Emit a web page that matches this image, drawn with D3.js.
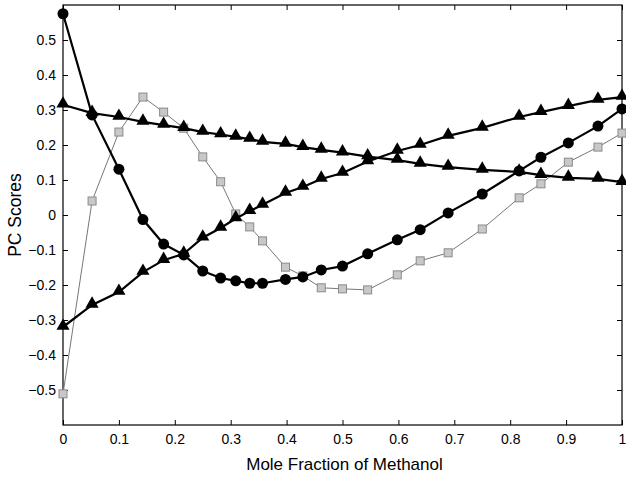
<!DOCTYPE html>
<html>
<head>
<meta charset="utf-8">
<script src="https://cdn.jsdelivr.net/npm/d3@7"></script>
<style>
  body { margin: 0; background: #fff; }
  svg { display: block; font-family: "Liberation Sans", Arial, sans-serif; }
</style>
</head>
<body>
<div class="graph"></div>
<script>
// mole fraction of methanol, shared by every series
const moleFraction = [0, 0.052, 0.1, 0.143, 0.18, 0.216, 0.25, 0.282, 0.309, 0.334, 0.357, 0.398,
    0.429, 0.462, 0.5, 0.545, 0.598, 0.639, 0.689, 0.75, 0.816, 0.855, 0.904, 0.957, 1.0];

// filled circles
const pcCircles = [0.575, 0.286, 0.131, -0.013, -0.083, -0.114, -0.16, -0.18, -0.188, -0.195, -0.195, -0.184,
    -0.177, -0.157, -0.146, -0.111, -0.071, -0.042, 0.006, 0.06, 0.126, 0.165, 0.206, 0.254, 0.303];

// triangles, falling
const pcTriDown = [0.315, 0.291, 0.28, 0.266, 0.257, 0.248, 0.237, 0.23, 0.223, 0.217, 0.209, 0.203,
    0.194, 0.186, 0.178, 0.167, 0.157, 0.146, 0.137, 0.129, 0.123, 0.114, 0.106, 0.103, 0.094];

// triangles, rising
const pcTriUp = [-0.32, -0.257, -0.22, -0.163, -0.129, -0.111, -0.065, -0.037, -0.01, 0.011, 0.029, 0.063,
    0.08, 0.103, 0.12, 0.153, 0.183, 0.2, 0.226, 0.249, 0.28, 0.294, 0.311, 0.329, 0.337];

// grey squares
const pcSquares = [-0.511, 0.04, 0.237, 0.337, 0.294, 0.248, 0.166, 0.095, 0.003, -0.034, -0.074, -0.149,
    -0.174, -0.208, -0.211, -0.214, -0.171, -0.131, -0.108, -0.04, 0.049, 0.089, 0.151, 0.194, 0.234];

const xTicks = [0, 0.1, 0.2, 0.3, 0.4, 0.5, 0.6, 0.7, 0.8, 0.9, 1];
const yTicks = [-0.5, -0.4, -0.3, -0.2, -0.1, 0, 0.1, 0.2, 0.3, 0.4, 0.5];

let WIDTH = 626,
    HEIGHT = 477,
    LEFT = 63, RIGHT = 622, TOP = 5, BOTTOM = 425;

let svg = d3.select(".graph")
    .append("svg")
    .attr("width", WIDTH)
    .attr("height", HEIGHT);

let xScale = d3.scaleLinear().domain([0, 1]).range([LEFT, RIGHT]);
let yScale = d3.scaleLinear().domain([-0.6, 0.6]).range([BOTTOM, TOP]);

const fmt = d => (d === 0 ? "0" : d3.format("")(d));

//box with inward ticks on all four sides
svg.append("g")
    .attr("transform", `translate(0, ${BOTTOM})`)
    .call(d3.axisBottom(xScale).tickValues(xTicks).tickSize(-5).tickPadding(9).tickFormat(fmt))
    .call(g => g.select(".domain").remove());
svg.append("g")
    .attr("transform", `translate(0, ${TOP})`)
    .call(d3.axisTop(xScale).tickValues(xTicks).tickSize(-5).tickFormat(""))
    .call(g => g.select(".domain").remove());
svg.append("g")
    .attr("transform", `translate(${LEFT}, 0)`)
    .call(d3.axisLeft(yScale).tickValues(yTicks).tickSize(-5).tickPadding(7).tickFormat(fmt))
    .call(g => g.select(".domain").remove());
svg.append("g")
    .attr("transform", `translate(${RIGHT}, 0)`)
    .call(d3.axisRight(yScale).tickValues(yTicks).tickSize(-5).tickFormat(""))
    .call(g => g.select(".domain").remove());

svg.selectAll(".tick line").attr("stroke", "#000").attr("stroke-width", 1);
svg.selectAll(".tick text").attr("font-size", 14).attr("fill", "#000")
    .attr("font-family", "Liberation Sans, Arial, sans-serif");

svg.append("rect")
    .attr("x", LEFT).attr("y", TOP)
    .attr("width", RIGHT - LEFT).attr("height", BOTTOM - TOP)
    .attr("fill", "none").attr("stroke", "#000").attr("stroke-width", 1.2);

//axis titles
svg.append("text")
    .attr("x", (LEFT + RIGHT) / 2 + 2)
    .attr("y", 470)
    .attr("text-anchor", "middle")
    .attr("font-size", 17)
    .text("Mole Fraction of Methanol");

svg.append("text")
    .attr("transform", `translate(21, ${yScale(0)}) rotate(-90)`)
    .attr("text-anchor", "middle")
    .attr("font-size", 17.5)
    .text("PC Scores");

//series
const toPoints = vals => moleFraction.map((x, i) => ({ x: x, y: vals[i] }));
const line = d3.line().x(d => xScale(d.x)).y(d => yScale(d.y));

//grey squares first so the black series sit on top
const sq = toPoints(pcSquares);
svg.append("path").datum(sq).attr("d", line)
    .attr("fill", "none").attr("stroke", "#777").attr("stroke-width", 1);
svg.append("g").selectAll("rect").data(sq).enter().append("rect")
    .attr("x", d => xScale(d.x) - 4)
    .attr("y", d => yScale(d.y) - 4)
    .attr("width", 8).attr("height", 8)
    .attr("fill", "#c8c8c8")
    .attr("stroke", "#8a8a8a")
    .attr("stroke-width", 1);

const tri = d3.symbol().type(d3.symbolTriangle).size(75);

[pcTriDown, pcTriUp].forEach(vals => {
    const pts = toPoints(vals);
    svg.append("path").datum(pts).attr("d", line)
        .attr("fill", "none").attr("stroke", "#000").attr("stroke-width", 2.2);
    svg.append("g").selectAll("path").data(pts).enter().append("path")
        .attr("d", tri)
        .attr("transform", d => `translate(${xScale(d.x)}, ${yScale(d.y) - 1})`)
        .attr("fill", "#000");
});

const circ = toPoints(pcCircles);
svg.append("path").datum(circ).attr("d", line)
    .attr("fill", "none").attr("stroke", "#000").attr("stroke-width", 2.2);
svg.append("g").selectAll("circle").data(circ).enter().append("circle")
    .attr("cx", d => xScale(d.x))
    .attr("cy", d => yScale(d.y))
    .attr("r", 5.5)
    .attr("fill", "#000");
</script>
</body>
</html>
